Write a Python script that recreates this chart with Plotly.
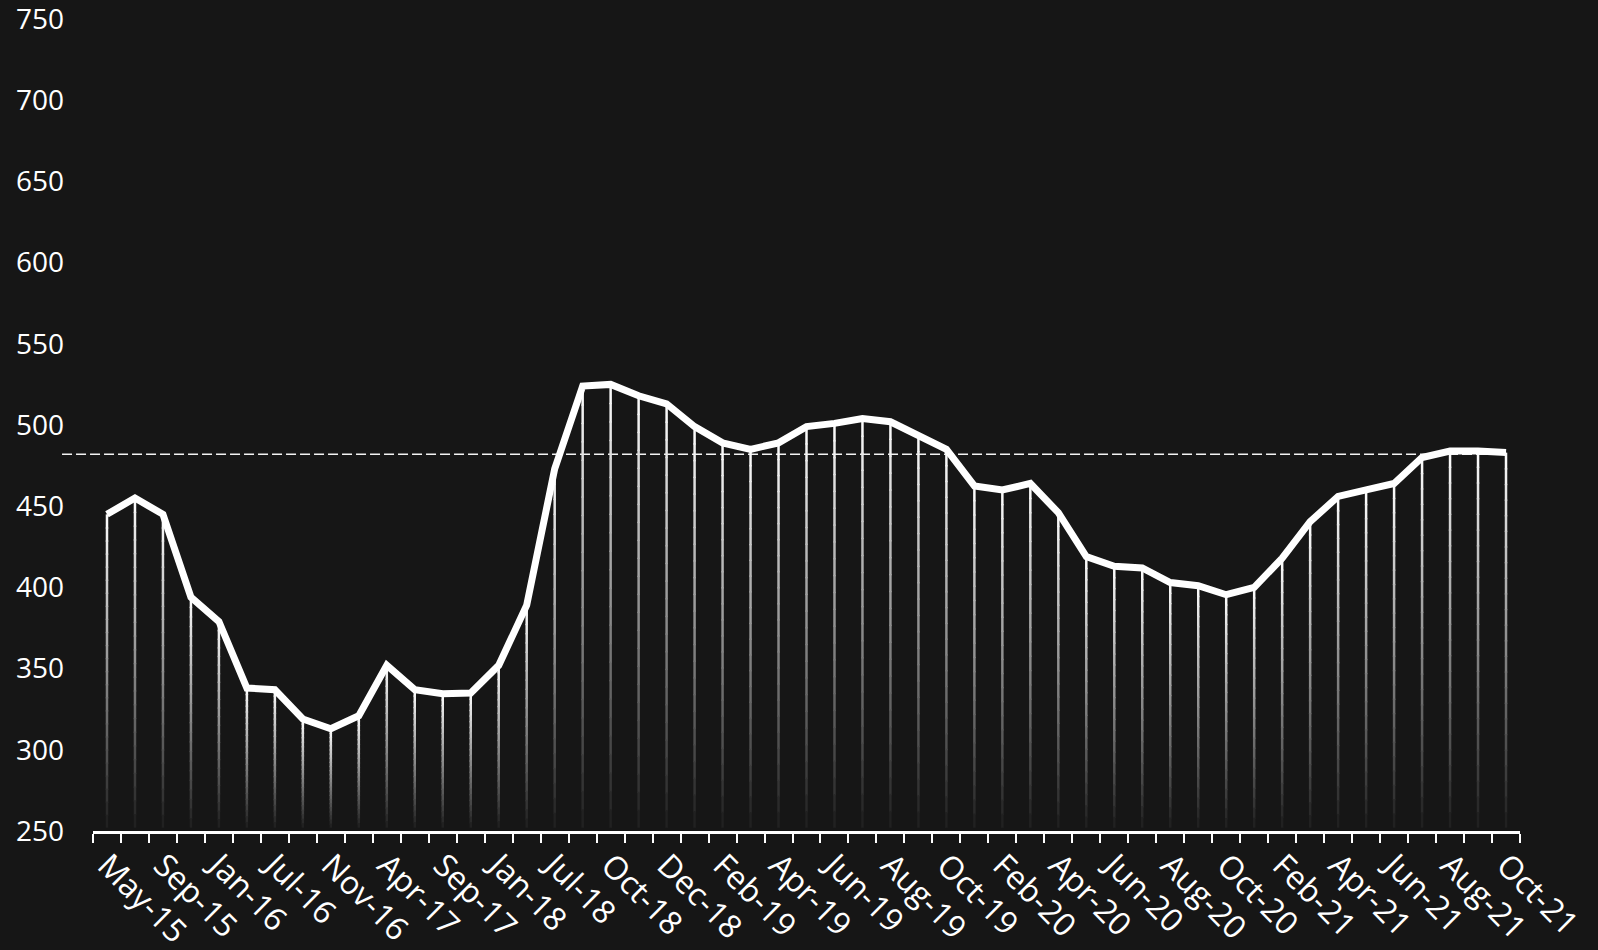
import plotly.graph_objects as go

categories = [
    "May-15", "Jul-15", "Sep-15", "Nov-15", "Jan-16", "Apr-16", "Jul-16", "Sep-16",
    "Nov-16", "Feb-17", "Apr-17", "Jun-17", "Sep-17", "Nov-17", "Jan-18", "Apr-18",
    "Jul-18", "Sep-18", "Oct-18", "Nov-18", "Dec-18", "Jan-19", "Feb-19", "Mar-19",
    "Apr-19", "May-19", "Jun-19", "Jul-19", "Aug-19", "Sep-19", "Oct-19", "Dec-19",
    "Feb-20", "Mar-20", "Apr-20", "May-20", "Jun-20", "Jul-20", "Aug-20", "Sep-20",
    "Oct-20", "Dec-20", "Feb-21", "Mar-21", "Apr-21", "May-21", "Jun-21", "Jul-21",
    "Aug-21", "Sep-21", "Oct-21",
]
values = [
    445, 455, 445, 394, 379, 338, 337, 319, 313, 321, 352, 337, 334.5, 335, 352, 389,
    473, 524, 525, 518, 513, 499, 489, 485, 489, 499, 501, 504, 502, 494, 485, 462.5,
    460, 464, 446, 419, 413, 412, 403, 401, 395.5, 400, 418, 440.5, 456, 460, 464,
    480, 484, 484, 483,
]
reference_level = 482
y_ticks = [250, 300, 350, 400, 450, 500, 550, 600, 650, 700, 750]

BG = "#161616"
n = len(categories)
xs = list(range(n))
tick_idx = xs[::2]
tick_text = [categories[i] for i in tick_idx]

fig = go.Figure()

# gradient drop lines: split each into bands, white at top fading to background
base = 252
N = 24
top_rgb = (255, 255, 255)
bot_rgb = (28, 28, 28)
for k in range(N):
    t = (k + 0.5) / N
    col = tuple(round(top_rgb[j] + (bot_rgb[j] - top_rgb[j]) * t) for j in range(3))
    sx, sy = [], []
    for i, v in zip(xs, values):
        y0 = v - (v - base) * k / N
        y1 = v - (v - base) * (k + 1) / N
        if k < N - 1:
            y1 -= 0.8  # small overlap to hide seams
        sx += [i, i, None]
        sy += [y0, y1, None]
    fig.add_trace(go.Scatter(x=sx, y=sy, mode="lines",
                             line=dict(color="rgb(%d,%d,%d)" % col, width=2.5),
                             hoverinfo="skip", showlegend=False))

# main line
fig.add_trace(go.Scatter(x=xs, y=values, mode="lines",
                         line=dict(color="white", width=7),
                         showlegend=False))

fig.add_shape(type="line", xref="paper", yref="y",
              x0=-0.0217, x1=(n - 1 + 0.5) / n,
              y0=reference_level, y1=reference_level,
              line=dict(color="rgba(255,255,255,0.95)", width=1.5, dash="10px,4px"),
              layer="below")

font = dict(family="Open Sans, Noto Sans, sans-serif", size=28, color="white")
xfont = dict(family="Open Sans, Noto Sans, sans-serif", size=32, color="white")
fig.update_layout(
    width=1598, height=950,
    margin=dict(l=93, r=78, t=19, b=119, autoexpand=False),
    paper_bgcolor=BG, plot_bgcolor=BG,
    font=font,
    xaxis=dict(range=[-0.5, n - 0.5], tickmode="array", tickvals=tick_idx,
               ticktext=tick_text, tickangle=45, ticks="", showgrid=False,
               zeroline=False, showline=True, linecolor="white", linewidth=2.5,
               tickfont=xfont, ticklabeloverflow="allow", automargin=False,
               minor=dict(ticks="outside", tick0=-0.5, dtick=1, ticklen=9,
                          tickwidth=2, tickcolor="white", showgrid=False)),
    yaxis=dict(range=[250, 750.001], tickvals=y_ticks, showgrid=False, zeroline=False,
               showline=False, ticks="", tickfont=font, ticklabelstandoff=28,
               ticklabeloverflow="allow", automargin=False),
)

fig.write_html("out.html")
